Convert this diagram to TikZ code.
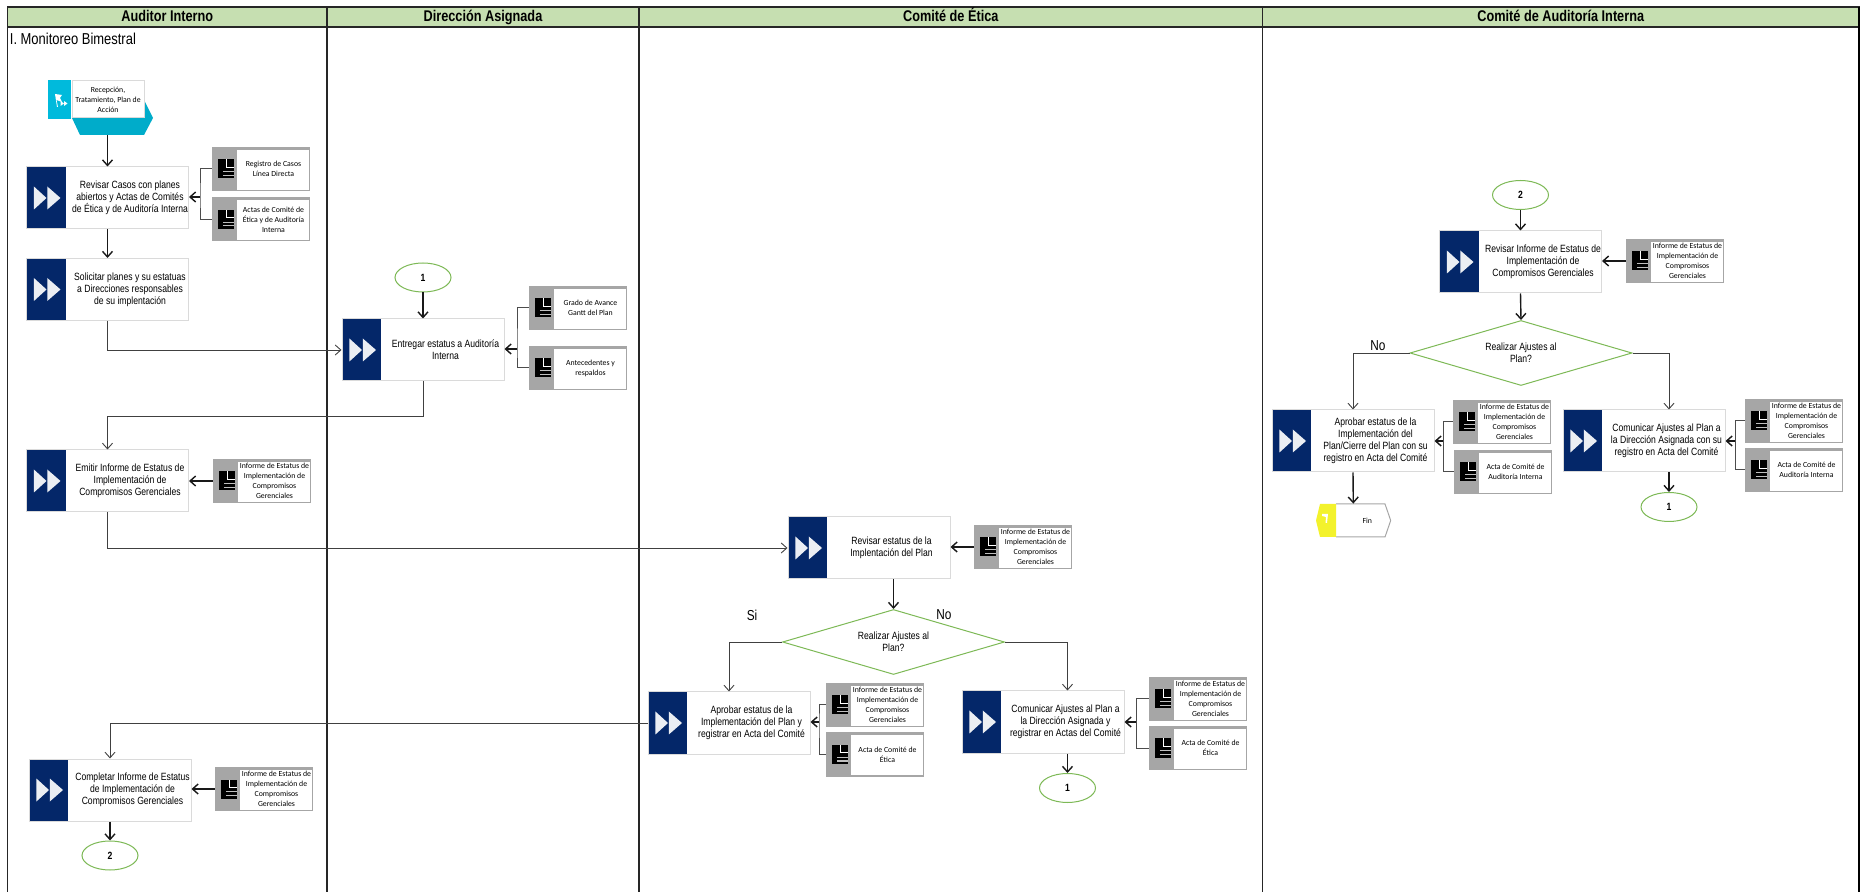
\documentclass[tikz,border=0pt]{standalone}
\usepackage{fontspec}
\setmainfont{Liberation Sans}[FakeStretch=0.82]
\newfontfamily\docfont{Carlito}
\usetikzlibrary{arrows.meta}
\usetikzlibrary{positioning}
\usetikzlibrary{shapes.geometric}
\definecolor{lanegreen}{HTML}{C6DFB1}
\definecolor{navyact}{HTML}{042769}
\definecolor{greendec}{HTML}{7DB956}
\definecolor{greydoc}{HTML}{A6A6A6}
\definecolor{greyline}{HTML}{DADADA}
\definecolor{tealicon}{HTML}{00BADC}
\definecolor{tealdark}{HTML}{00ACCA}
\definecolor{yellowfin}{HTML}{F3F22C}
\newcommand{\actfont}{\fontsize{5.25}{6}\selectfont}
\newcommand{\dfont}{\docfont\fontsize{3.9}{4.95}\selectfont}
\tikzset{
	>={Straight Barb[length=2.8pt,width=5pt]},
	actbox/.style={rectangle,draw=greyline,line width=.5pt,fill=white,inner sep=0pt,
		minimum width=81pt,minimum height=31pt,font=\actfont,
		path picture={
			\fill[navyact] (path picture bounding box.north west) rectangle ([xshift=19.5pt]path picture bounding box.south west);
			\fill[white!92!navyact] ([xshift=3.7pt,yshift=5.75pt]path picture bounding box.west) -- ([xshift=10pt]path picture bounding box.west) -- ([xshift=3.7pt,yshift=-5.75pt]path picture bounding box.west) -- cycle;
			\fill[white!92!navyact] ([xshift=10.4pt,yshift=5.75pt]path picture bounding box.west) -- ([xshift=17pt]path picture bounding box.west) -- ([xshift=10.4pt,yshift=-5.75pt]path picture bounding box.west) -- cycle;
		}},
	docbox/.style={rectangle,fill=greydoc,inner sep=0pt,
		minimum width=49pt,minimum height=22pt,font=\dfont,
		path picture={
			\fill[white] ([xshift=12.5pt,yshift=-1.4pt]path picture bounding box.north west) rectangle ([xshift=-.6pt,yshift=.7pt]path picture bounding box.south east);
			\fill[black] ([xshift=3pt,yshift=-4.75pt]path picture bounding box.west) rectangle ([xshift=11pt,yshift=4.75pt]path picture bounding box.west);
			\draw[white,line width=.35pt] ([xshift=7.3pt,yshift=4.75pt]path picture bounding box.west) |- ([xshift=11pt,yshift=.9pt]path picture bounding box.west);
			\draw[white!75!black,line width=.6pt] ([xshift=5.5pt,yshift=-1.4pt]path picture bounding box.west) -- ++(5.5pt,0);
			\draw[white!75!black,line width=.6pt] ([xshift=5.5pt,yshift=-3.2pt]path picture bounding box.west) -- ++(5.5pt,0);
		}},
	connbox/.style={ellipse,draw=greendec,line width=.5pt,fill=white,inner sep=0pt,
		minimum width=28pt,minimum height=14.5pt,font=\actfont\bfseries},
	decbox/.style={diamond,aspect=3.4,draw=greendec,line width=.5pt,fill=white,inner sep=0pt,
		minimum width=111pt,minimum height=32.5pt,font=\actfont,align=center},
	answer/.style={inner sep=0pt,font=\fontsize{7.2}{8}\selectfont},
	flow/.style={->,draw=black!90,line width=.7pt},
	longflow/.style={->,draw=black!75,line width=.45pt},
	docline/.style={draw=black!70,line width=.5pt},
	lanehead/.style={midway,text height=6pt,text depth=1.5pt,font=\fontsize{7.75}{9}\selectfont\bfseries}
}
\newcommand{\actnode}[3]{\node[actbox] (#1) at (#2) {\hspace*{22.5pt}\begin{minipage}{58.5pt}\centering #3\end{minipage}};}
\newcommand{\docnode}[3]{\node[docbox] (#1) at (#2) {\hspace*{12.5pt}\begin{minipage}{36.5pt}\centering #3\end{minipage}};}
\newcommand{\docjoin}[4]{\draw[docline] (#2.west) -| (#1) |- (#3.west); \draw[flow] (#1) -- (#1 -| #4.east);}
\newcommand{\docinforme}{Informe de Estatus de\\Implementación de\\Compromisos\\Gerenciales}
\begin{document}
\begin{tikzpicture}[x=.5pt,y=-.5pt]
	\useasboundingbox (0,0) rectangle (1864,892);
	\foreach \xa/\xb/\lanename in {7.5/327/Auditor Interno,327/639/Dirección Asignada,639/1262.5/Comité de Ética,1262.5/1859/Comité de Auditoría Interna}{
		\draw[black!85,line width=.6pt,fill=lanegreen] (\xa,7) rectangle (\xb,27) node[lanehead,black] {\lanename};
		\draw[black!85,line width=.7pt] (\xa,27) -- (\xa,892);
	}
	\draw[black,line width=1pt] (1859,7) -- (1859,892);
	\node[anchor=west,inner sep=0pt,font=\fontsize{7.9}{9}\selectfont] (title) at (9.5,38.5) {I. Monitoreo Bimestral};

	\begin{scope}[every node/.style={inner sep=0pt}]
		\fill[tealdark] (72,118) -- (144,100) -- (153,118) -- (144,135) -- (80,135) -- cycle;
		\node[rectangle,fill=white,draw=greyline,line width=.5pt,minimum width=36pt,minimum height=18.5pt,font=\dfont,align=center] (start) at (108,99.5) {Recepción,\\Tratamiento, Plan de\\Acción};
		\node[rectangle,fill=tealicon,minimum width=11.5pt,minimum height=19.5pt,left=0pt of start] (starticon) {};
		\fill[white] (55,94) -- (62,95) -- (60,98) -- (62,102) -- (56.5,100) -- (58,107) -- (57,107) -- cycle;
		\fill[white] (60.5,101) -- (64,103.5) -- (60.5,106) -- cycle (64,101) -- (67.5,103.5) -- (64,106) -- cycle;
		\coordinate (startend) at (107.5,135);
	\end{scope}

	\actnode{revisar}{107.5,198}{Revisar Casos con planes\\abiertos y Actas de Comités\\de Ética y de Auditoría Interna}
	\docnode{registro}{261,169}{Registro de Casos\\Línea Directa}
	\docnode{actas}{261,219.5}{Actas de Comité de\\Ética y de Auditoría\\Interna}
	\actnode{solicitar}{107.5,289.5}{Solicitar planes y su estatuas\\a Direcciones responsables\\de su implentación}
	\node[connbox] (uno) at (423,277.5) {1};
	\actnode{entregar}{423,350}{Entregar estatus a Auditoría\\Interna}
	\docnode{grado}{578,308}{Grado de Avance\\Gantt del Plan}
	\docnode{antece}{578,368}{Antecedentes y\\respaldos}
	\actnode{emitir}{107.5,481}{Emitir Informe de Estatus de\\Implementación de\\Compromisos Gerenciales}
	\docnode{infemitir}{262,481}{\docinforme}
	\actnode{estatus}{869,548}{Revisar estatus de la\\Implentación del Plan}
	\docnode{infestatus}{1023,547}{\docinforme}
	\node[decbox] (ajustes) at (893.5,642) {Realizar Ajustes al\\Plan?};
	\node[answer] (si) at (752,615) {Si};
	\node[answer] (no) at (944,615) {No};
	\actnode{aprobar}{729,723}{Aprobar estatus de la\\Implementación del Plan y\\registrar en Acta del Comité}
	\docnode{infaprobar}{875,705}{\docinforme}
	\docnode{actaetica}{875,754.5}{Acta de Comité de\\Ética}
	\actnode{comunicar}{1043,722}{Comunicar Ajustes al Plan a\\la Dirección Asignada y\\registrar en Actas del Comité}
	\docnode{infcomunicar}{1198,699}{\docinforme}
	\docnode{actaetidos}{1198,748}{Acta de Comité de\\Ética}
	\node[connbox] (unob) at (1067.5,788) {1};
	\actnode{completar}{110,790}{Completar Informe de Estatus\\de Implementación de\\Compromisos Gerenciales}
	\docnode{infcompletar}{264,789}{\docinforme}
	\node[connbox] (dos) at (110,855.5) {2};
	\node[connbox] (dosb) at (1520.5,195) {2};
	\actnode{revinf}{1520.5,262}{Revisar Informe de Estatus de\\Implementación de\\Compromisos Gerenciales}
	\docnode{infrevinf}{1675,261}{\docinforme}
	\node[decbox] (ajustesb) at (1521,353) {Realizar Ajustes al\\Plan?};
	\node[answer] (nob) at (1378,346) {No};
	\actnode{cierre}{1353,441}{Aprobar estatus de la\\Implementación del\\Plan/Cierre del Plan con su\\registro en Acta del Comité}
	\docnode{infcierre}{1502,422}{\docinforme}
	\docnode{actaaud}{1503,472}{Acta de Comité de\\Auditoría Interna}
	\actnode{comaud}{1644,441}{Comunicar Ajustes al Plan a\\la Dirección Asignada con su\\registro en Acta del Comité}
	\docnode{infcomaud}{1794,421}{\docinforme}
	\docnode{actaaudb}{1794,470}{Acta de Comité de\\Auditoría Interna}
	\node[connbox] (unoc) at (1669,507) {1};

	\fill[white] (1336,504) -- (1385,504) -- (1390.7,520.5) -- (1385,537) -- (1336,537) -- cycle;
	\draw[greydoc,line width=.5pt] (1336,504) -- (1385,504) -- (1390.7,520.5) -- (1385,537) -- (1336,537);
	\fill[yellowfin] (1316,520.5) -- (1320,504) -- (1336,504) -- (1336,537) -- (1320,537) -- cycle;
	\fill[white] (1322,514) -- (1328,514) -- (1327,523) -- (1325.5,523) -- (1326,517) -- (1322,516) -- cycle;
	\node[inner sep=0pt,minimum width=37.35pt,minimum height=16.5pt,font=\dfont] (fin) at (1353.3,520.5) {\hspace*{14pt}Fin};

	\coordinate (juncrevisar) at (200,197);
	\coordinate (juncentregar) at (517,349);
	\coordinate (juncaprobar) at (819,722);
	\coordinate (junccomunicar) at (1136,722);
	\coordinate (junccierre) at (1443,441);
	\coordinate (junccomaud) at (1735,441);
	\docjoin{juncrevisar}{registro}{actas}{revisar}
	\docjoin{juncentregar}{grado}{antece}{entregar}
	\docjoin{juncaprobar}{infaprobar}{actaetica}{aprobar}
	\docjoin{junccomunicar}{infcomunicar}{actaetidos}{comunicar}
	\docjoin{junccierre}{infcierre}{actaaud}{cierre}
	\docjoin{junccomaud}{infcomaud}{actaaudb}{comaud}

	\draw [flow] (startend) -- (revisar.north);
	\draw [flow] (revisar.south) -- (solicitar.north);
	\draw [longflow] (solicitar.south) |- (entregar.west);
	\draw [flow] (uno.south) -- (entregar.north);
	\draw [longflow] (entregar.south) -- ++(0,35) -| (emitir.north);
	\draw [flow] (infemitir.west) -- (infemitir.west -| emitir.east);
	\draw [longflow] (emitir.south) |- (estatus.west);
	\draw [flow] (infestatus.west) -- (infestatus.west -| estatus.east);
	\draw [flow] (estatus.south -| ajustes.north) -- (ajustes.north);
	\draw [longflow] (ajustes.west) -| (aprobar.north);
	\draw [longflow] (ajustes.east) -| (unob |- comunicar.north);
	\draw [flow] (comunicar.south -| unob.north) -- (unob.north);
	\draw [longflow] (aprobar.west) -| (completar.north);
	\draw [flow] (infcompletar.west) -- (infcompletar.west -| completar.east);
	\draw [flow] (completar.south) -- (dos.north);
	\draw [flow] (dosb.south) -- (revinf.north);
	\draw [flow] (infrevinf.west) -- (infrevinf.west -| revinf.east);
	\draw [flow] (revinf.south) -- (ajustesb.north);
	\draw [longflow] (ajustesb.west) -| (cierre.north);
	\draw [longflow] (ajustesb.east) -| (unoc |- comaud.north);
	\draw [flow] (comaud.south -| unoc.north) -- (unoc.north);
	\draw [flow] (cierre.south) -- (fin.north);
\end{tikzpicture}
\end{document}
